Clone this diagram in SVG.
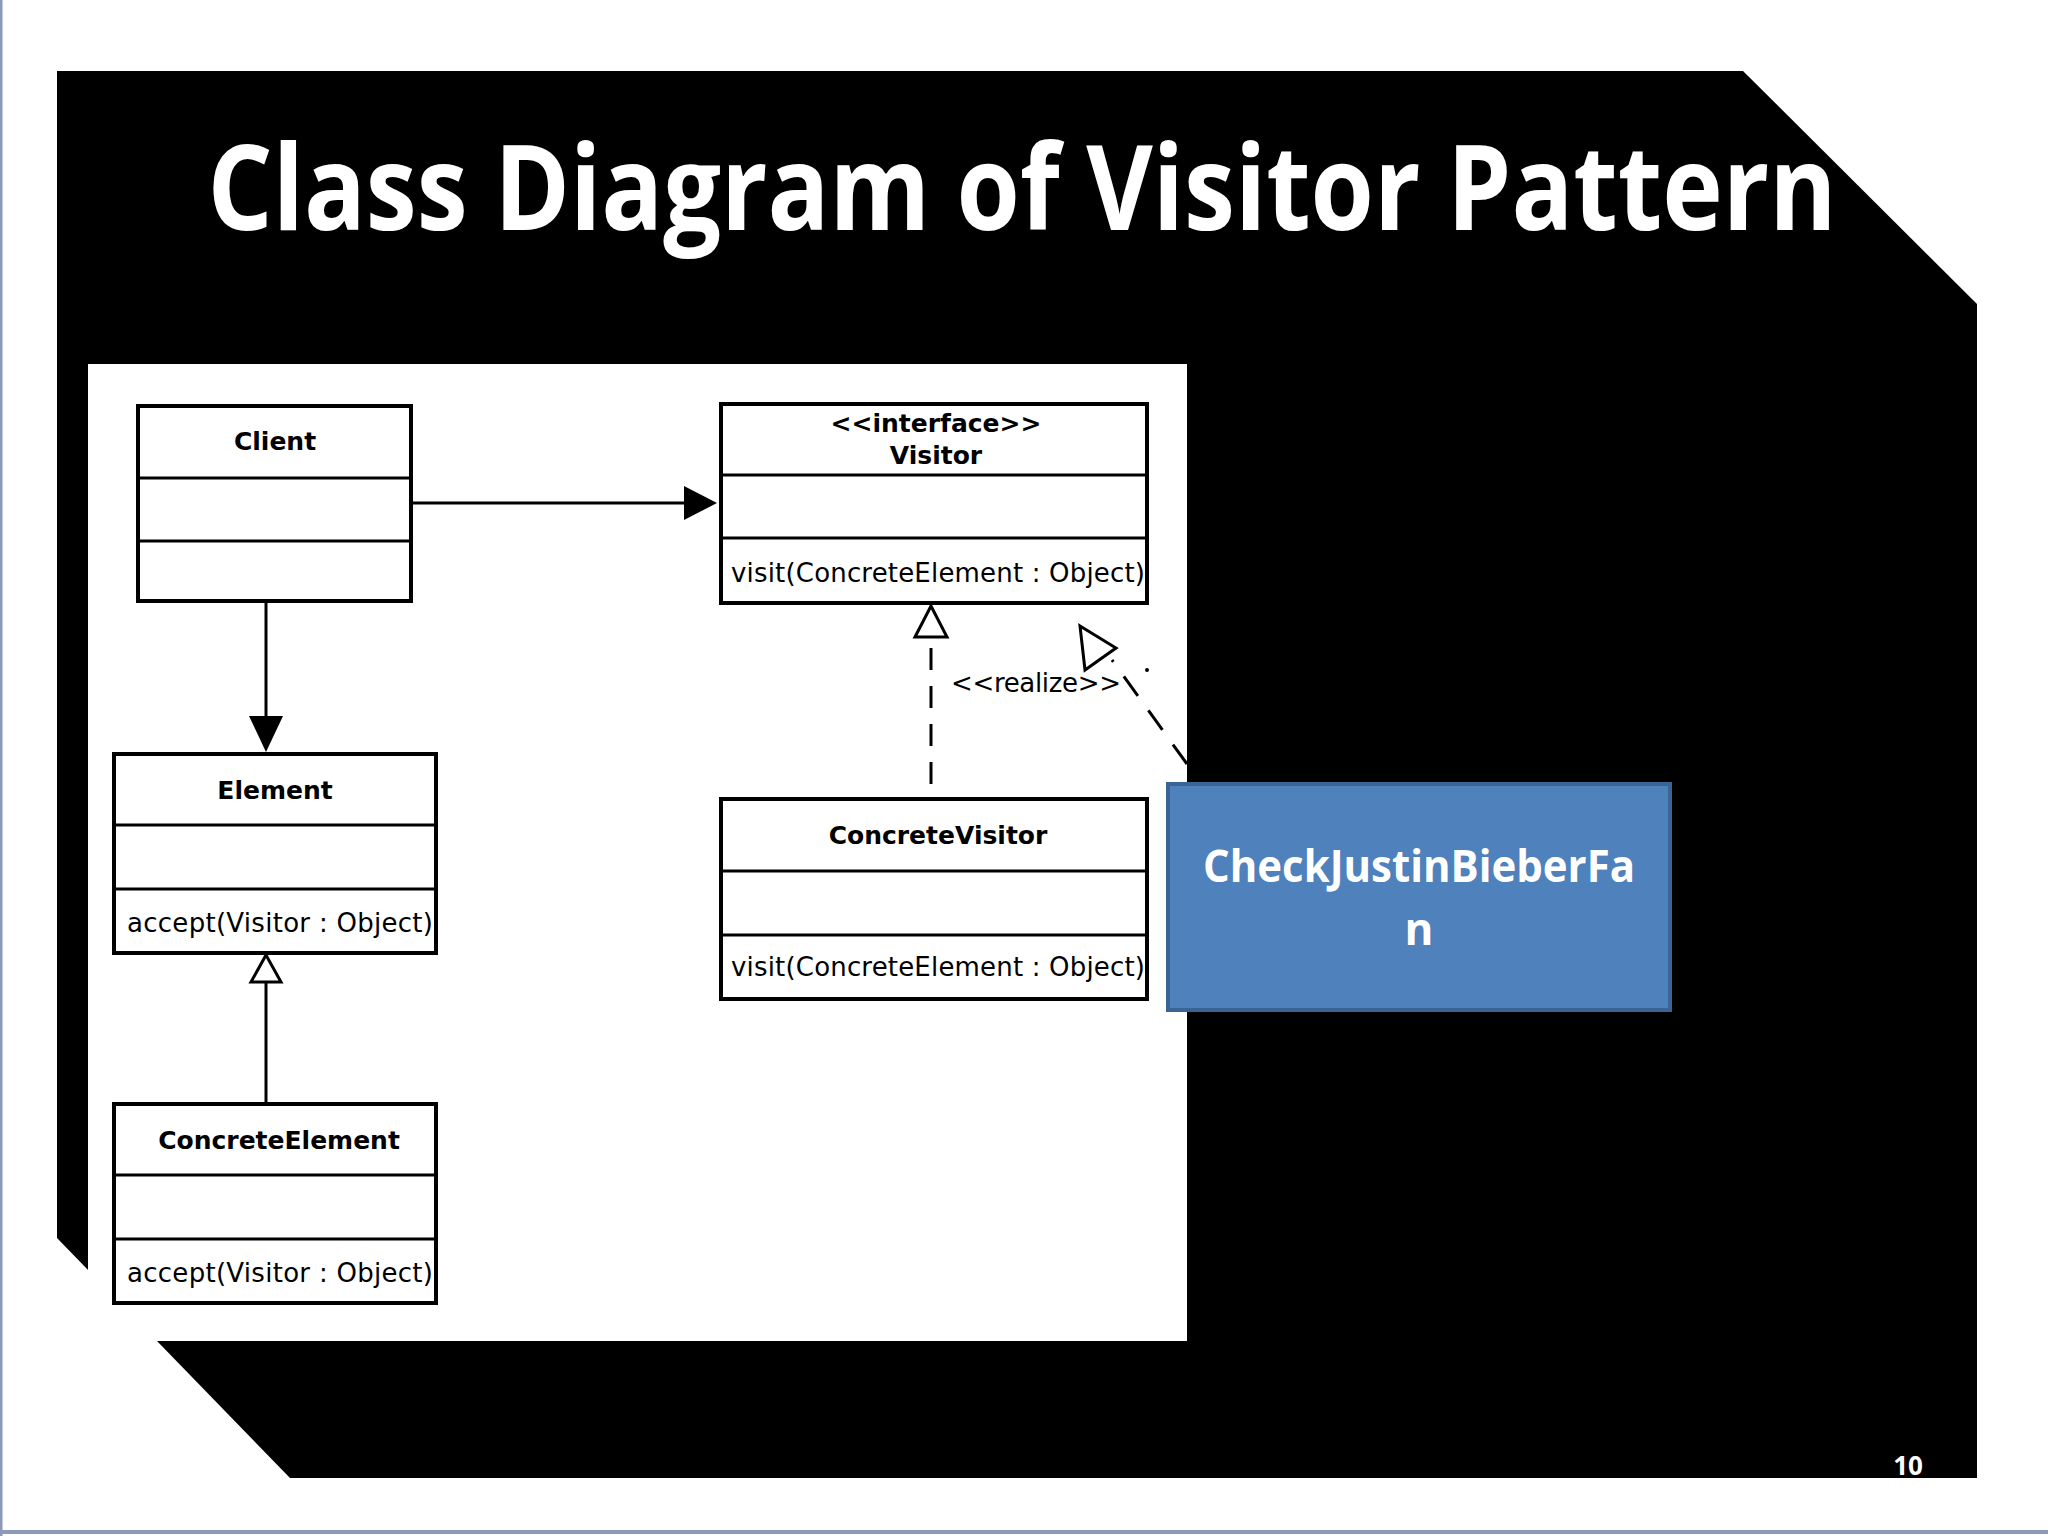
<svg xmlns="http://www.w3.org/2000/svg" width="2048" height="1536" viewBox="0 0 2048 1536">
<defs>
<style>
.box{fill:#fff;stroke:#000;stroke-width:4}
.ln{stroke:#000;stroke-width:3;fill:none}
.t{font-family:"DejaVu Sans",sans-serif;font-size:25px;fill:#000;text-anchor:middle}
.b{font-weight:bold}
.m{font-family:"DejaVu Sans",sans-serif;font-size:26px;fill:#000}
</style>
<marker id="fill" markerWidth="12" markerHeight="12" refX="11" refY="6" orient="auto" markerUnits="userSpaceOnUse" viewBox="0 0 12 12"><path d="M0,0 L12,6 L0,12 z" fill="#000"/></marker>
</defs>
<rect width="2048" height="1536" fill="#fff"/>
<line x1="1" y1="0" x2="1" y2="1536" stroke="#8a9ab8" stroke-width="3"/>
<line x1="0" y1="1532" x2="2048" y2="1532" stroke="#8a9ab8" stroke-width="4"/>
<polygon points="57,71 1743,71 1977,304 1977,1478 290,1478 57,1238" fill="#000"/>
<text x="1022" y="230" font-family="'Open Sans',sans-serif" font-weight="bold" font-size="118" fill="#fff" text-anchor="middle" textLength="1629" lengthAdjust="spacingAndGlyphs">Class Diagram of Visitor Pattern</text>
<rect x="88" y="364" width="1099" height="977" fill="#fff"/>
<g id="connectors">
<line class="ln" x1="411" y1="503" x2="684" y2="503"/>
<polygon points="684,486 717,503 684,520" fill="#000"/>
<line class="ln" x1="266" y1="601" x2="266" y2="716"/>
<polygon points="249,716 283,716 266,752" fill="#000"/>
<line class="ln" x1="266" y1="1104" x2="266" y2="982"/>
<polygon points="266,955 251,982 281,982" fill="#fff" stroke="#000" stroke-width="3"/>
<line class="ln" x1="931" y1="784" x2="931" y2="637" stroke-dasharray="22,16"/>
<polygon points="931,606 915,637 947,637" fill="#fff" stroke="#000" stroke-width="3"/>
<line class="ln" x1="1187" y1="764" x2="1112" y2="660" stroke-dasharray="24,18"/>
<polygon points="1080,626 1116,648 1085,670" fill="#fff" stroke="#000" stroke-width="3"/>
<circle cx="1147" cy="670" r="2" fill="#000"/>
<text x="951" y="692" class="m" font-size="24" textLength="170">&lt;&lt;realize&gt;&gt;</text>
</g>
<g id="client">
<rect class="box" x="138" y="406" width="273" height="195"/>
<line class="ln" x1="138" y1="478" x2="411" y2="478" stroke-width="4"/>
<line class="ln" x1="138" y1="541" x2="411" y2="541" stroke-width="4"/>
<text class="t b" x="275" y="450">Client</text>
</g>
<g id="visitor">
<rect class="box" x="721" y="404" width="426" height="199"/>
<line class="ln" x1="721" y1="475" x2="1147" y2="475" stroke-width="4"/>
<line class="ln" x1="721" y1="538" x2="1147" y2="538" stroke-width="4"/>
<text class="t b" x="936" y="432">&lt;&lt;interface&gt;&gt;</text>
<text class="t b" x="936" y="464">Visitor</text>
<text class="m" x="731" y="582" textLength="414">visit(ConcreteElement : Object)</text>
</g>
<g id="element">
<rect class="box" x="114" y="754" width="322" height="199"/>
<line class="ln" x1="114" y1="825" x2="436" y2="825" stroke-width="4"/>
<line class="ln" x1="114" y1="889" x2="436" y2="889" stroke-width="4"/>
<text class="t b" x="275" y="799">Element</text>
<text class="m" x="127" y="932" textLength="306">accept(Visitor : Object)</text>
</g>
<g id="concreteElement">
<rect class="box" x="114" y="1104" width="322" height="199"/>
<line class="ln" x1="114" y1="1175" x2="436" y2="1175" stroke-width="4"/>
<line class="ln" x1="114" y1="1239" x2="436" y2="1239" stroke-width="4"/>
<text class="t b" x="279" y="1149">ConcreteElement</text>
<text class="m" x="127" y="1282" textLength="306">accept(Visitor : Object)</text>
</g>
<g id="concreteVisitor">
<rect class="box" x="721" y="799" width="426" height="200"/>
<line class="ln" x1="721" y1="871" x2="1147" y2="871" stroke-width="4"/>
<line class="ln" x1="721" y1="935" x2="1147" y2="935" stroke-width="4"/>
<text class="t b" x="938" y="844">ConcreteVisitor</text>
<text class="m" x="731" y="976" textLength="414">visit(ConcreteElement : Object)</text>
</g>
<g id="checkJustinBieberFan">
<rect x="1168" y="784" width="502" height="226" fill="#4f81bd" stroke="#3a6494" stroke-width="4"/>
<text x="1419" y="882" font-family="'Open Sans',sans-serif" font-weight="bold" font-size="44" fill="#fff" text-anchor="middle" textLength="432" lengthAdjust="spacingAndGlyphs">CheckJustinBieberFa</text>
<text x="1419" y="945" font-family="'Open Sans',sans-serif" font-weight="bold" font-size="44" fill="#fff" text-anchor="middle">n</text>
</g>
<text x="1908" y="1475" font-family="'Open Sans',sans-serif" font-weight="bold" font-size="26" fill="#fff" text-anchor="middle">10</text>
</svg>
